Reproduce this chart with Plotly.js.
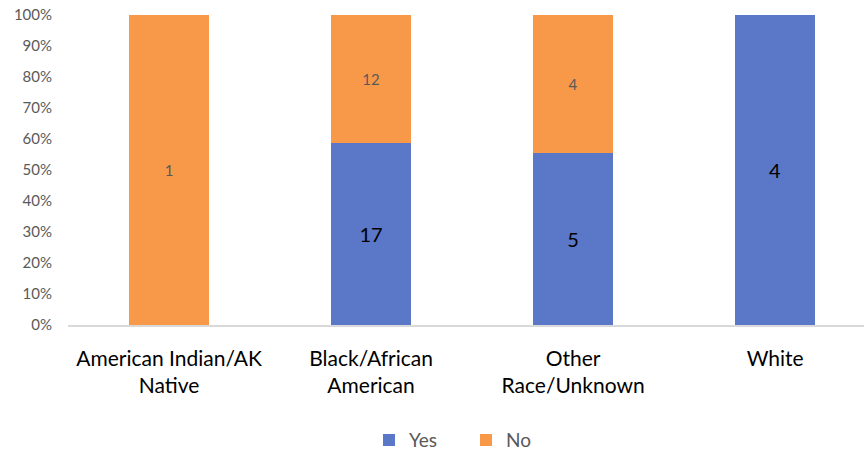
<!DOCTYPE html>
<html>
<head>
<meta charset="utf-8">
<script src="https://cdn.plot.ly/plotly-3.0.1.min.js"></script>
<style>html,body{margin:0;padding:0;background:#fff;}#chart{width:864px;height:451px;}</style>
</head>
<body>
<div id="chart"></div>
<script>
const categories = ["American Indian/AK<br>Native", "Black/African<br>American", "Other<br>Race/Unknown", "White"];
const yesValues = [0, 17, 5, 4];
const noValues = [1, 12, 4, 0];
const tickVals = [0, 10, 20, 30, 40, 50, 60, 70, 80, 90, 100];
const tickText = tickVals.map(v => v + "%");

const labelOf = v => v === 0 ? "" : String(v);

const traces = [
  {
    type: "bar", name: "Yes", x: categories, y: yesValues,
    text: yesValues.map(labelOf), texttemplate: "%{text}",
    textposition: "inside", insidetextanchor: "middle",
    textfont: {family: "Lato, 'Noto Sans', sans-serif", size: 20, color: "#000000"},
    marker: {color: "#5b77c7"}, hoverinfo: "none"
  },
  {
    type: "bar", name: "No", x: categories, y: noValues,
    text: noValues.map(labelOf), texttemplate: "%{text}",
    textposition: "inside", insidetextanchor: "middle",
    textfont: {family: "Lato, 'Noto Sans', sans-serif", size: 15, color: "#595959"},
    marker: {color: "#f8994a"}, hoverinfo: "none"
  }
];

const layout = {
  width: 864, height: 451,
  margin: {l: 68, r: 0, t: 15, b: 126},
  barmode: "stack", barnorm: "percent", bargap: 0.604,
  paper_bgcolor: "#ffffff", plot_bgcolor: "#ffffff",
  font: {family: "Lato, 'Noto Sans', sans-serif", color: "#595959"},
  xaxis: {
    range: [-0.5, 3.44],
    showgrid: false, showline: true, linecolor: "#d9d9d9", linewidth: 1.5,
    ticks: "", tickfont: {size: 21, color: "#000000"}, zeroline: false,
    ticklabelstandoff: 14
  },
  yaxis: {
    range: [0, 100], tickvals: tickVals, ticktext: tickText,
    showgrid: false, zeroline: false, showline: false, ticks: "",
    tickfont: {size: 15, color: "#595959"}, ticklabelstandoff: 15
  },
  showlegend: true,
  legend: {
    orientation: "h", x: 0.5, xanchor: "center", yref: "container", y: 0.024, yanchor: "middle",
    font: {size: 19, color: "#595959"}, entrywidth: 52, traceorder: "normal"
  }
};

Plotly.newPlot("chart", traces, layout, {displayModeBar: false, staticPlot: true});
</script>
</body>
</html>
